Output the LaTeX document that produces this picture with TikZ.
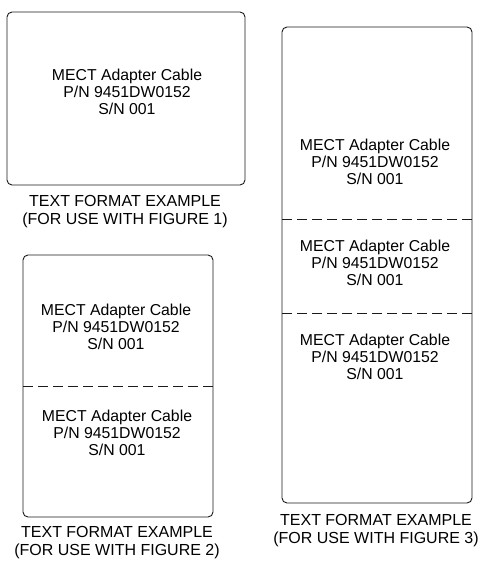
\documentclass[tikz,border=0pt]{standalone}
\usepackage{fontspec}
\setmainfont{Liberation Sans}
\usepackage{xcolor}
\usepackage{tikz}
\definecolor{tagline}{HTML}{1A1A1A}
\tikzset{
  tag box/.style   = {draw=tagline, line width=0.9pt, rounded corners=5pt},
  cut line/.style  = {tagline, line width=0.9pt, dash pattern=on 10pt off 5pt},
  tag text/.style  = {align=center, inner sep=0pt, font=\fontsize{15.8}{17}\selectfont},
  tag caption/.style = {align=center, inner sep=0pt, font=\fontsize{16}{18}\selectfont},
}

\begin{document}
\begin{tikzpicture}[x=1pt, y=-1pt]
    \useasboundingbox (0,0) rectangle (480,561);
    % figure 1
    \draw[tag box] (7,12) rectangle (245,185);
    \node[tag text] (one) at (127,92) {MECT Adapter Cable\\P/N 9451DW0152\\S/N 001};
    \node[tag caption] (cap one) at (125,212) {TEXT FORMAT EXAMPLE\\(FOR USE WITH FIGURE 1)};
    % figure 2
    \draw[tag box] (23,255) rectangle (213,517);
    \draw[cut line] (23,386) -- (213,386);
    \node[tag text] (two a) at (116,327) {MECT Adapter Cable\\P/N 9451DW0152\\S/N 001};
    \node[tag text] (two b) at (117,433) {MECT Adapter Cable\\P/N 9451DW0152\\S/N 001};
    \node[tag caption] (cap two) at (117,543) {TEXT FORMAT EXAMPLE\\(FOR USE WITH FIGURE 2)};
    % figure 3
    \draw[tag box] (282,27) rectangle (472,503);
    \draw[cut line] (282,219) -- (472,219);
    \draw[cut line] (282,313) -- (472,313);
    \node[tag text] (three a) at (375,162) {MECT Adapter Cable\\P/N 9451DW0152\\S/N 001};
    \node[tag text] (three b) at (375,263) {MECT Adapter Cable\\P/N 9451DW0152\\S/N 001};
    \node[tag text] (three c) at (375,357) {MECT Adapter Cable\\P/N 9451DW0152\\S/N 001};
    \node[tag caption] (cap three) at (376,531) {TEXT FORMAT EXAMPLE\\(FOR USE WITH FIGURE 3)};
  \end{tikzpicture}
\end{document}
